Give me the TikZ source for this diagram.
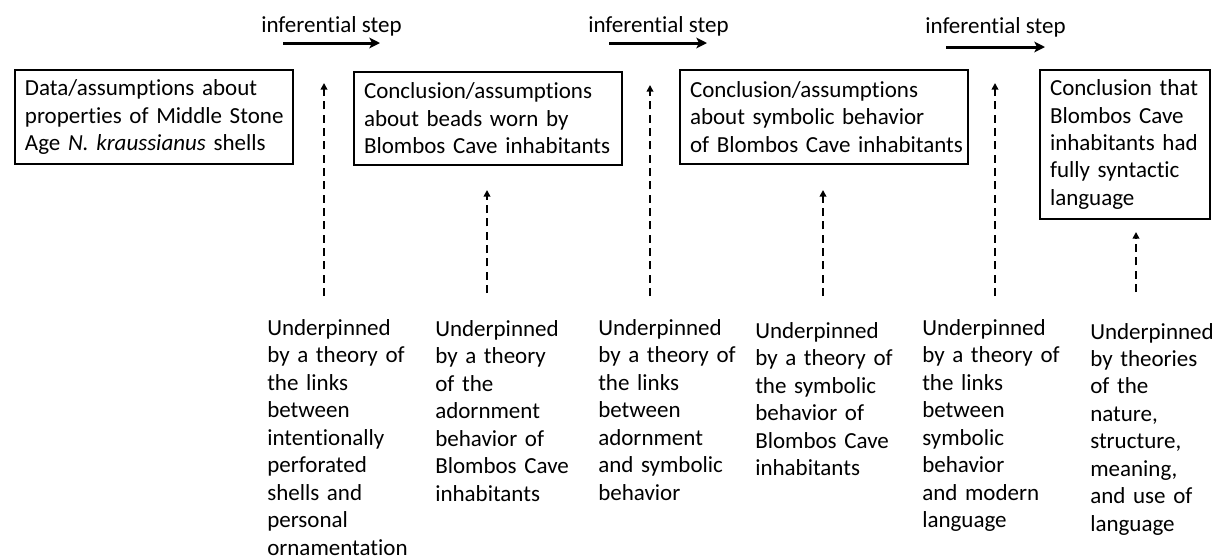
\documentclass[tikz,border=0pt]{standalone}
\usepackage{fontspec}
\setmainfont{Carlito}[Ligatures=NoCommon]
\usetikzlibrary{arrows.meta}
\newcommand\oneline[1]{\mbox{#1}}
\begin{document}
\begin{tikzpicture}[x=0.75pt,y=-0.75pt,
  every node/.style={font=\fontsize{17.25pt}{20.6pt}\selectfont, inner sep=0pt},
  box/.style={draw, line width=1.5pt, anchor=north west, align=left, inner xsep=7.5pt, inner ysep=0pt},
  under/.style={anchor=base west, align=left, text width=150pt},
  steplabel/.style={anchor=base west},
  steparrow/.style={line width=2.25pt, -{Stealth[length=8pt,width=8pt,inset=2pt]}},
  support/.style={line width=1.5pt, dash pattern=on 6pt off 4pt, -{Triangle[length=5pt,width=5pt]}}
]
\useasboundingbox (0,0) rectangle (1215,558);

% boxes
\node[box, text width=193.5pt, minimum height=70.5pt] (b1) at (14,69)
  {\oneline{Data/assumptions about}\\\oneline{properties of Middle Stone}\\\oneline{Age \textit{N. kraussianus} shells}};
\node[box, text width=186pt, minimum height=69.75pt] (b2) at (353,71)
  {\oneline{Conclusion/assumptions}\\\oneline{about beads worn by}\\\oneline{Blombos Cave inhabitants}};
\node[box, text width=201pt, minimum height=70.5pt] (b3) at (679,69)
  {\oneline{Conclusion/assumptions}\\\oneline{about symbolic behavior}\\\oneline{of Blombos Cave inhabitants}};
\node[box, text width=112.5pt, minimum height=111.75pt] (b4) at (1039,69)
  {\oneline{Conclusion that}\\\oneline{Blombos Cave}\\\oneline{inhabitants had}\\\oneline{fully syntactic}\\\oneline{language}};

% inferential steps
\node[steplabel] (l1) at (261,32) {inferential step};
\node[steplabel] (l2) at (588,32) {inferential step};
\node[steplabel] (l3) at (925,33) {inferential step};
\coordinate (s1a) at (283,43); \coordinate (s1b) at (380,43);
\coordinate (s2a) at (609,43); \coordinate (s2b) at (707,43);
\coordinate (s3a) at (946,47); \coordinate (s3b) at (1045,47);
\draw[steparrow] (s1a) -- (s1b);
\draw[steparrow] (s2a) -- (s2b);
\draw[steparrow] (s3a) -- (s3b);

% underpinning texts
\node[under] (u1) at (267,335.5) {Underpinned\\by a theory of\\the links\\between\\intentionally\\perforated\\shells and\\personal\\ornamentation};
\node[under] (u2) at (435,336.5) {Underpinned\\by a theory\\of the\\adornment\\behavior of\\Blombos Cave\\inhabitants};
\node[under] (u3) at (598,335.5) {Underpinned\\by a theory of\\the links\\between\\adornment\\and symbolic\\behavior};
\node[under] (u4) at (755,338.5) {Underpinned\\by a theory of\\the symbolic\\behavior of\\Blombos Cave\\inhabitants};
\node[under] (u5) at (922,335.5) {Underpinned\\by a theory of\\the links\\between\\symbolic\\behavior\\and modern\\language};
\node[under] (u6) at (1090,339) {Underpinned\\by theories\\of the\\nature,\\structure,\\meaning,\\and use of\\language};

% dashed support arrows
\coordinate (d1a) at (324,296); \coordinate (d1b) at (324,83);
\coordinate (d2a) at (487,293); \coordinate (d2b) at (487,190);
\coordinate (d3a) at (650,296); \coordinate (d3b) at (650,85);
\coordinate (d4a) at (823,296); \coordinate (d4b) at (823,190);
\coordinate (d5a) at (995,296); \coordinate (d5b) at (995,83);
\coordinate (d6a) at (1136,292); \coordinate (d6b) at (1136,232);
\draw[support] (d1a) -- (d1b);
\draw[support] (d2a) -- (d2b);
\draw[support] (d3a) -- (d3b);
\draw[support] (d4a) -- (d4b);
\draw[support] (d5a) -- (d5b);
\draw[support] (d6a) -- (d6b);
\end{tikzpicture}
\end{document}
